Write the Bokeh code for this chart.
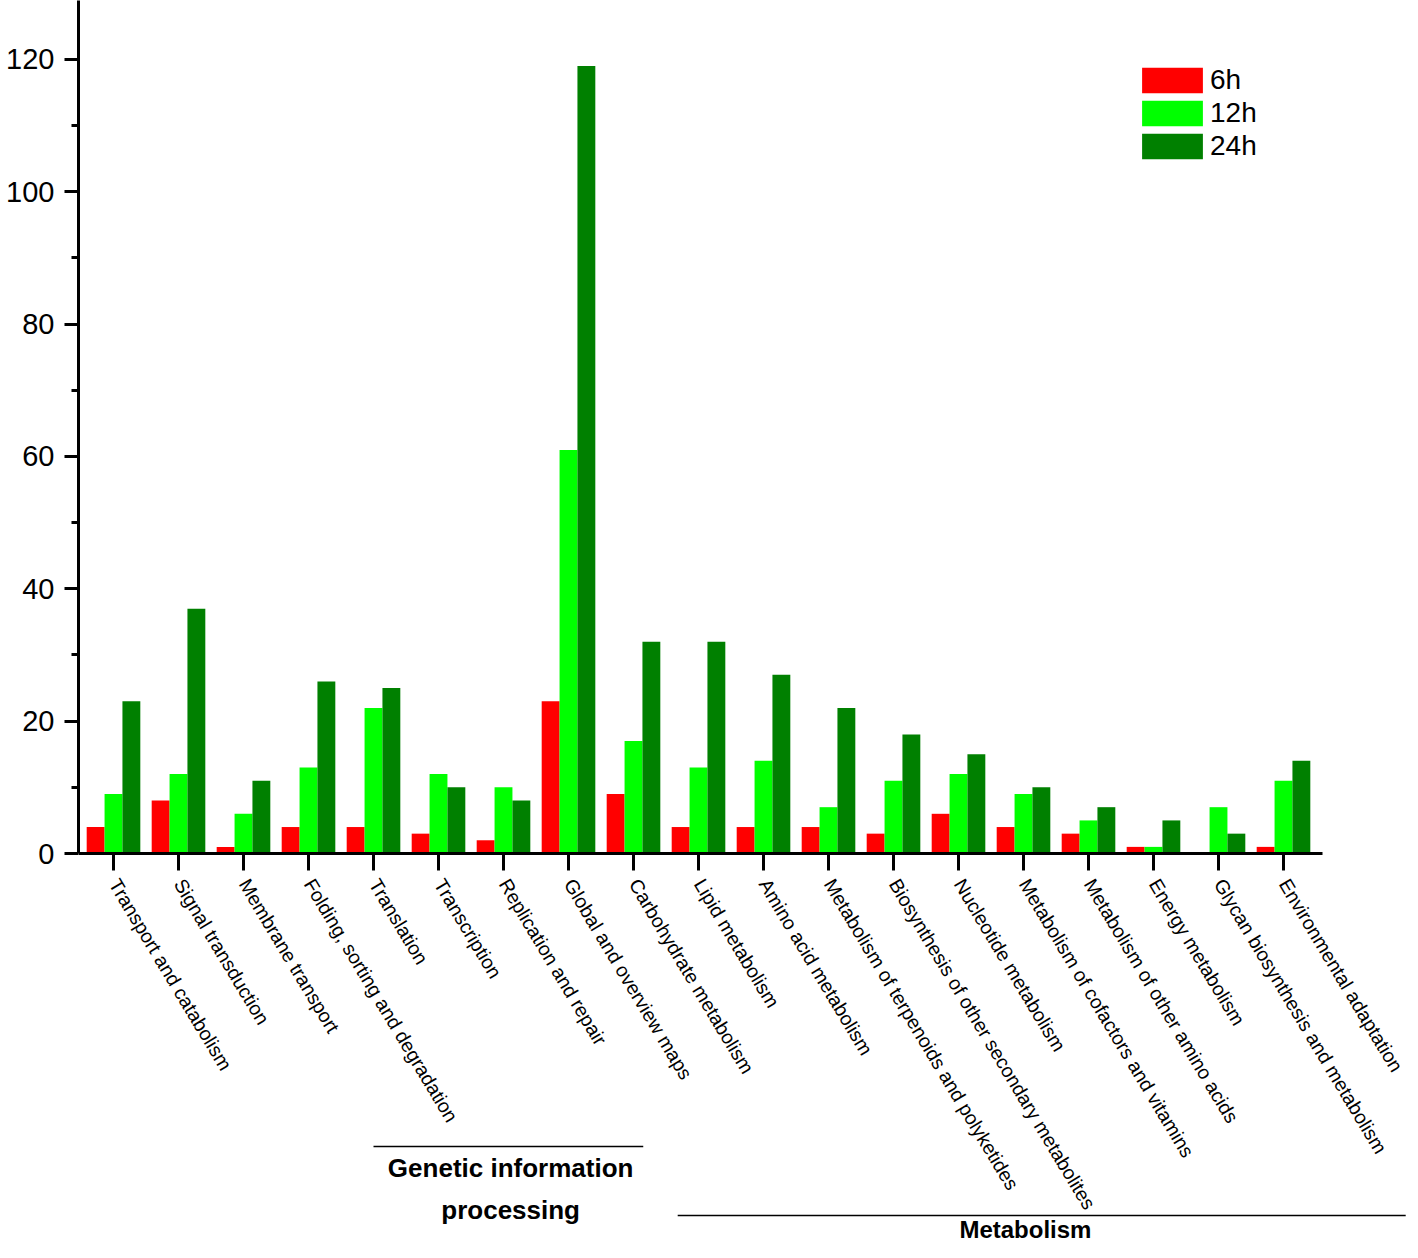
import math
from bokeh.plotting import figure
from bokeh.models import (Range1d, FixedTicker, Legend, LegendItem, ColumnDataSource)
from bokeh.core.properties import value
from bokeh.transform import dodge
from bokeh.embed import file_html
from bokeh.resources import INLINE

categories = [
    "Transport and catabolism",
    "Signal transduction",
    "Membrane transport",
    "Folding, sorting and degradation",
    "Translation",
    "Transcription",
    "Replication and repair",
    "Global and overview maps",
    "Carbohydrate metabolism",
    "Lipid metabolism",
    "Amino acid metabolism",
    "Metabolism of terpenoids and polyketides",
    "Biosynthesis of other secondary metabolites",
    "Nucleotide metabolism",
    "Metabolism of cofactors and vitamins",
    "Metabolism of other amino acids",
    "Energy metabolism",
    "Glycan biosynthesis and metabolism",
    "Environmental adaptation",
]
h6 = [4, 8, 1, 4, 4, 3, 2, 23, 9, 4, 4, 4, 3, 6, 4, 3, 1, 0, 1]
h12 = [9, 12, 6, 13, 22, 12, 10, 61, 17, 13, 14, 7, 11, 12, 9, 5, 1, 7, 11]
h24 = [23, 37, 11, 26, 25, 10, 8, 119, 32, 32, 27, 22, 18, 15, 10, 7, 5, 3, 14]
series_names = ["6h", "12h", "24h"]
y_major_ticks = [0, 20, 40, 60, 80, 100, 120]
y_minor_ticks = [10, 30, 50, 70, 90, 110]

# category groups: title lines and (line start, line end, title centre) in category-axis units
group_titles = [["Genetic information", "processing"], ["Metabolism"]]
group_spans = [(5.0, 9.15, 7.11), (9.68, 20.88, 15.03)]

colors = ["#FF0000", "#00FF00", "#008000"]
FONT = "Liberation Sans"

W, H = 1410, 1242
LEFT = 78
PPU = 6.6167            # pixels per y unit
ZERO_PX = 853           # canvas y of value 0
XPX = 65.0              # pixels per category
X0 = 1 - 35 / XPX       # x range start
Y_MAX = ZERO_PX / PPU
Y_MIN = -(H - ZERO_PX) / PPU
X_END = X0 + (W - LEFT) / XPX
X_AXIS_END = 19 + 39 / XPX


def py(pixels):
    return pixels / PPU


xs = [i + 1 for i in range(len(categories))]
source = ColumnDataSource(dict(x=xs, h6=h6, h12=h12, h24=h24))

p = figure(width=W, height=H, x_range=Range1d(X0, X_END), y_range=Range1d(Y_MIN, Y_MAX),
           output_backend="svg", toolbar_location=None, x_axis_location=None,
           min_border_left=LEFT, min_border_right=0, min_border_top=0, min_border_bottom=0)
p.xgrid.visible = False
p.ygrid.visible = False
p.outline_line_color = None
p.background_fill_color = "white"
p.border_fill_color = "white"

bw = 0.275
renderers = []
for i, (key, col) in enumerate(zip(["h6", "h12", "h24"], colors)):
    r = p.vbar(x=dodge("x", (i - 1) * bw, range=p.x_range), top=key, width=bw, source=source,
               fill_color=col, line_color=None)
    renderers.append(r)

# y axis (bounded to the data part)
ya = p.yaxis[0]
ya.bounds = (0, Y_MAX)
ya.ticker = FixedTicker(ticks=y_major_ticks, minor_ticks=y_minor_ticks)
ya.axis_line_width = 3
ya.axis_line_color = "black"
ya.major_tick_line_width = 3
ya.minor_tick_line_width = 3
ya.major_tick_out = 14
ya.major_tick_in = 0
ya.minor_tick_out = 7
ya.minor_tick_in = 0
ya.major_label_text_font = FONT
ya.major_label_text_font_size = "29px"
ya.major_label_text_color = "black"
ya.major_label_standoff = 10

# x axis line, ticks and rotated category labels
p.segment(x0=[X0], y0=[0], x1=[X_AXIS_END], y1=[0], line_width=3, line_color="black")
p.segment(x0=xs, y0=[0] * len(xs), x1=xs, y1=[-py(17)] * len(xs), line_width=3, line_color="black")
p.text(x=[x + 0.01 for x in xs], y=[-py(27)] * len(xs), text=categories,
       angle=-59, angle_units="deg", text_align="left", text_baseline="middle",
       text_font=value(FONT), text_font_size="19.5px", text_color="black")

legend = Legend(items=[LegendItem(label=n, renderers=[r]) for n, r in zip(series_names, renderers)],
                location=(1056, 1080))
legend.border_line_color = None
legend.background_fill_alpha = 0
legend.glyph_width = 76
legend.glyph_height = 32
legend.label_height = 32
legend.spacing = 1
legend.padding = 0
legend.margin = 0
legend.label_standoff = 0
legend.label_text_font = FONT
legend.label_text_font_size = "28px"
legend.label_text_color = "black"
p.add_layout(legend)

# group annotations below the category labels
line_px = [1146, 1215]
title_px = [[1167, 1209], [1229]]
title_size = ["26px", "24px"]
for titles, (x0, x1, xc), lp, tps, ts in zip(group_titles, group_spans, line_px, title_px, title_size):
    ly = -py(lp - ZERO_PX)
    p.segment(x0=[x0], y0=[ly], x1=[x1], y1=[ly], line_width=1.5, line_color="black")
    p.text(x=[xc] * len(titles), y=[-py(t - ZERO_PX) for t in tps], text=titles,
           text_align="center", text_baseline="middle", text_font=value(FONT),
           text_font_style="bold", text_font_size=ts, text_color="black")

open("out.html", "w").write(file_html(p, INLINE))
